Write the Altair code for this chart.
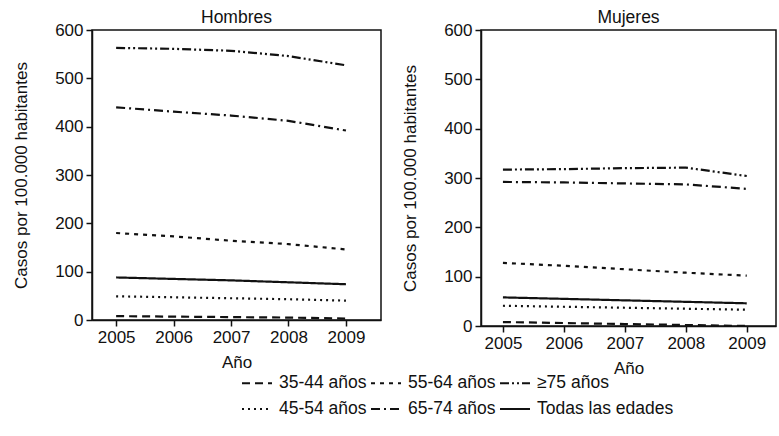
import altair as alt
import pandas as pd

years = [2005, 2006, 2007, 2008, 2009]
groups = ["35-44 años", "45-54 años", "55-64 años", "65-74 años", "≥75 años", "Todas las edades"]

hombres = {
    "35-44 años": [8, 7, 6, 5, 3],
    "45-54 años": [49, 47, 45, 43, 40],
    "55-64 años": [180, 173, 164, 157, 146],
    "65-74 años": [440, 431, 423, 412, 392],
    "≥75 años": [563, 561, 557, 546, 527],
    "Todas las edades": [88, 85, 82, 78, 74],
}
mujeres = {
    "35-44 años": [8, 6, 4, 2, 0],
    "45-54 años": [41, 39, 37, 35, 33],
    "55-64 años": [128, 122, 115, 108, 102],
    "65-74 años": [292, 291, 289, 287, 278],
    "≥75 años": [317, 318, 320, 321, 304],
    "Todas las edades": [58, 55, 52, 49, 46],
}
dashes = [[8, 5], [2, 4], [4, 5], [9, 4, 2, 4], [9, 3, 2, 3, 2, 3], [1, 0]]

FONT = "Liberation Sans"


def frame(d):
    rows = []
    for g, vals in d.items():
        for y, v in zip(years, vals):
            rows.append({"grupo": g, "year": y, "value": v})
    return pd.DataFrame(rows)


def panel(d, title, xdom, w, h):
    return alt.Chart(frame(d)).mark_line(strokeWidth=2.2, color="#111").encode(
        x=alt.X("year:Q", title="Año",
                scale=alt.Scale(domain=xdom, nice=False, zero=False),
                axis=alt.Axis(values=years, format="d", grid=False)),
        y=alt.Y("value:Q", title="Casos por 100.000 habitantes",
                scale=alt.Scale(domain=[0, 600], nice=False),
                axis=alt.Axis(values=[0, 100, 200, 300, 400, 500, 600], grid=False)),
        strokeDash=alt.StrokeDash("grupo:N", title=None,
                                  scale=alt.Scale(domain=groups, range=dashes),
                                  legend=alt.Legend(orient="none", legendX=149, legendY=337,
                                                    columns=3, symbolType="stroke",
                                                    symbolSize=900, symbolStrokeWidth=2,
                                                    symbolStrokeColor="#111",
                                                    labelOffset=6, columnPadding=0,
                                                    rowPadding=1, labelFontSize=17.5,
                                                    labelFont=FONT, labelColor="#111")),
        detail="grupo:N",
    ).properties(width=w, height=h, title=title)


left = panel(hombres, "Hombres", [2004.58, 2009.61], 289, 290)
right = panel(mujeres, "Mujeres", [2004.64, 2009.48], 295, 296)

chart = alt.hconcat(left, right, spacing=18).properties(
    padding={"left": 11, "top": 7, "right": 0, "bottom": 0},
    background="white",
).configure_view(stroke="#111", strokeWidth=1.5).configure_axis(
    domainColor="#111", domainWidth=1.5, tickColor="#111", tickWidth=1.5, tickSize=6,
    labelFont=FONT, labelFontSize=17, labelColor="#111", labelPadding=3,
    titleFont=FONT, titleFontSize=17, titleColor="#111", titleFontWeight="normal",
).configure_axisY(titlePadding=24).configure_axisX(titlePadding=9).configure_title(
    font=FONT, fontSize=17.5, fontWeight="normal", color="#111", offset=-5
)

chart.save("out.html", embed_options={"renderer": "svg", "actions": False})
